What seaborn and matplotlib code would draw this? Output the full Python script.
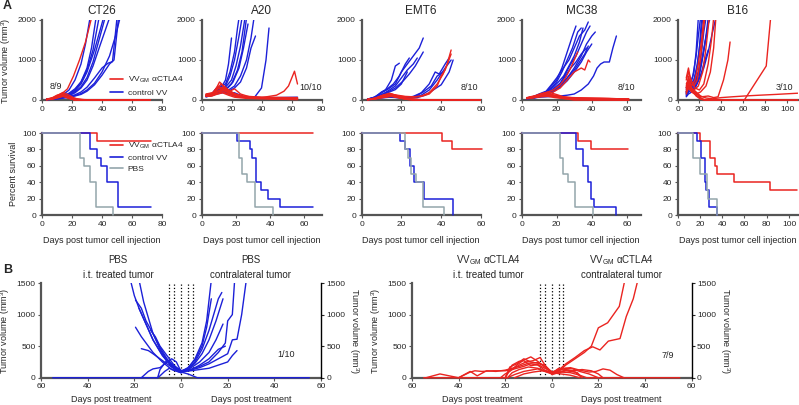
import pandas as pd
import matplotlib
matplotlib.use("Agg")
import matplotlib.pyplot as plt
import seaborn as sns
from matplotlib.lines import Line2D
from matplotlib.ticker import FuncFormatter

RED = "#ea2420"
BLUE = "#1c20d8"
GRAY = "#93a5ab"
SPINE = "#555555"

# ---------------- data: tumor growth, top row (day, volume mm3) ----------------
ct26_ctrl = [
    [(3, 20), (7, 40), (10, 70), (14, 130), (18, 250), (22, 500), (26, 900), (29, 1400), (32, 2050)],
    [(3, 15), (7, 30), (10, 60), (14, 100), (18, 170), (22, 280), (26, 450), (30, 750), (34, 1250), (38, 2050)],
    [(3, 15), (7, 30), (10, 50), (14, 80), (18, 130), (22, 230), (26, 400), (30, 700), (35, 1250), (41, 2050)],
    [(3, 10), (7, 25), (10, 40), (14, 70), (18, 110), (22, 180), (26, 300), (30, 500), (34, 850), (39, 1400), (45, 2050)],
    [(3, 10), (7, 20), (10, 40), (14, 60), (18, 90), (22, 130), (26, 200), (30, 320), (35, 550), (40, 800), (44, 920), (47, 960), (50, 2050)],
    [(3, 10), (7, 20), (10, 30), (14, 50), (18, 80), (22, 110), (26, 160), (30, 250), (35, 420), (40, 700), (45, 1100), (49, 1600), (52, 2050)],
    [(3, 15), (7, 30), (10, 50), (14, 90), (18, 150), (22, 250), (26, 450), (30, 800), (33, 1300), (36, 2050)],
    [(3, 10), (7, 20), (10, 40), (14, 70), (18, 120), (22, 200), (26, 330), (30, 560), (34, 950), (38, 1500), (42, 2050)],
    [(3, 10), (7, 20), (10, 30), (14, 50), (18, 70), (22, 100), (26, 140), (30, 220), (35, 380), (40, 620), (45, 900), (48, 1000), (51, 2050)],
    [(3, 10), (7, 30), (10, 50), (14, 70), (18, 50), (22, 20), (26, 0), (72, 0)],
]
ct26_vv = [
    [(3, 10), (7, 40), (10, 90), (14, 180), (17, 280), (21, 600), (25, 1000), (29, 1450), (33, 2050)],
    [(3, 15), (7, 50), (10, 110), (14, 190), (17, 140), (21, 60), (24, 20), (28, 0), (72, 0)],
    [(3, 10), (7, 30), (10, 80), (13, 150), (17, 100), (21, 30), (25, 0), (72, 0)],
    [(3, 20), (7, 60), (10, 120), (14, 160), (17, 90), (21, 20), (24, 0), (72, 0)],
    [(3, 10), (7, 40), (10, 70), (14, 120), (17, 60), (21, 10), (24, 0), (72, 0)],
    [(3, 10), (7, 30), (10, 60), (14, 100), (17, 80), (21, 40), (28, 10), (35, 0), (72, 0)],
    [(3, 5), (7, 20), (10, 50), (14, 90), (17, 50), (21, 10), (25, 0), (72, 0)],
    [(3, 10), (7, 40), (10, 90), (13, 130), (17, 70), (21, 15), (26, 0), (72, 0)],
    [(3, 15), (7, 35), (10, 70), (14, 110), (18, 40), (22, 0), (72, 0)],
]

a20_ctrl = [
    [(3, 100), (7, 150), (10, 250), (13, 300), (16, 500), (18, 900), (20, 1550)],
    [(3, 100), (7, 140), (10, 220), (13, 280), (16, 350), (19, 600), (22, 1000), (25, 1600), (27, 2050)],
    [(3, 120), (7, 160), (10, 300), (13, 350), (16, 400), (19, 700), (22, 1200), (24, 1800), (25, 2050)],
    [(3, 80), (7, 120), (10, 200), (13, 250), (16, 320), (20, 500), (23, 850), (26, 1350), (29, 2050)],
    [(3, 90), (7, 130), (10, 250), (14, 300), (17, 280), (20, 400), (24, 750), (27, 1200), (30, 2050)],
    [(3, 100), (7, 150), (10, 280), (13, 330), (17, 300), (21, 450), (25, 800), (28, 1300), (31, 1900)],
    [(3, 110), (7, 140), (10, 200), (14, 250), (18, 250), (22, 350), (26, 600), (30, 1000), (33, 1550), (35, 2050)],
    [(3, 80), (7, 110), (10, 170), (14, 200), (18, 220), (22, 300), (26, 450), (30, 800), (33, 1300), (36, 1600)],
    [(3, 100), (7, 120), (10, 150), (14, 180), (18, 200), (22, 180), (26, 120), (30, 60), (35, 50), (40, 300), (43, 1000), (45, 1800)],
    [(3, 100), (7, 120), (10, 180), (14, 200), (18, 150), (24, 80), (35, 60), (50, 60), (64, 70)],
]
a20_vv = [
    [(3, 120), (7, 150), (10, 250), (13, 400), (16, 300), (20, 200), (24, 120), (30, 70), (40, 50), (50, 40), (64, 40)],
    [(3, 100), (7, 130), (10, 300), (12, 450), (15, 350), (18, 250), (22, 150), (28, 80), (40, 60), (64, 50)],
    [(3, 150), (7, 180), (10, 200), (14, 250), (18, 200), (22, 280), (26, 150), (32, 80), (45, 50), (64, 30)],
    [(3, 90), (7, 120), (10, 180), (14, 300), (18, 220), (22, 120), (30, 60), (45, 40), (64, 20)],
    [(3, 130), (7, 160), (11, 350), (14, 280), (18, 180), (23, 100), (30, 60), (50, 40), (64, 40)],
    [(3, 110), (7, 140), (10, 220), (14, 260), (18, 200), (22, 120), (30, 60), (40, 60), (50, 120), (55, 220), (58, 350), (62, 720), (64, 400)],
    [(3, 120), (7, 140), (10, 200), (15, 230), (20, 150), (25, 90), (35, 50), (50, 30), (64, 20)],
    [(3, 100), (7, 110), (10, 160), (14, 200), (18, 150), (24, 80), (35, 40), (64, 30)],
    [(3, 140), (7, 170), (10, 260), (14, 320), (17, 260), (21, 170), (27, 100), (40, 70), (64, 60)],
    [(3, 90), (7, 100), (10, 140), (14, 180), (18, 120), (22, 70), (30, 40), (64, 10)],
]

emt6_ctrl = [
    [(3, 20), (6, 60), (9, 150), (12, 250), (15, 500), (17, 850), (19, 920)],
    [(3, 20), (7, 80), (10, 200), (13, 280), (16, 400), (19, 600), (22, 900), (24, 1050)],
    [(3, 10), (7, 50), (10, 120), (14, 250), (17, 350), (20, 550), (23, 750), (26, 900), (28, 1050)],
    [(3, 20), (7, 70), (10, 180), (13, 260), (17, 400), (20, 700), (23, 900), (26, 1100), (29, 1300), (31, 1550)],
    [(3, 15), (7, 60), (10, 140), (14, 220), (17, 300), (21, 480), (24, 650), (27, 850), (31, 1200)],
    [(3, 15), (7, 50), (10, 110), (14, 200), (17, 260), (20, 400), (23, 700)],
    [(3, 10), (7, 40), (10, 80), (14, 90), (18, 70), (22, 60), (26, 90), (30, 180), (34, 400), (37, 700), (39, 650), (42, 900), (44, 1050)],
    [(3, 10), (7, 30), (10, 60), (14, 80), (18, 60), (22, 50), (26, 70), (30, 120), (34, 250), (38, 500), (42, 800), (45, 1000)],
    [(3, 10), (7, 30), (10, 70), (14, 100), (18, 80), (22, 60), (27, 90), (31, 200), (35, 350), (38, 600), (41, 700)],
    [(3, 10), (7, 25), (10, 50), (14, 70), (18, 60), (22, 50), (28, 60), (32, 120), (36, 250), (40, 380), (44, 700), (46, 1000)],
]
emt6_vv = [
    [(3, 10), (7, 40), (10, 100), (14, 150), (18, 120), (22, 90), (26, 80), (30, 100), (34, 180), (38, 400), (41, 650), (43, 900), (45, 1250)],
    [(3, 10), (7, 30), (10, 80), (14, 120), (18, 100), (22, 80), (26, 70), (30, 90), (34, 150), (38, 350), (40, 600), (42, 750), (45, 1150)],
    [(3, 10), (7, 40), (11, 120), (15, 150), (19, 80), (23, 30), (28, 0), (60, 0)],
    [(3, 15), (7, 50), (10, 110), (14, 170), (18, 110), (22, 40), (27, 0), (60, 0)],
    [(3, 10), (7, 30), (11, 90), (15, 130), (19, 90), (24, 30), (30, 0), (60, 0)],
    [(3, 10), (7, 35), (10, 80), (14, 110), (18, 70), (22, 20), (26, 0), (60, 0)],
    [(3, 5), (7, 25), (11, 70), (15, 100), (19, 60), (23, 20), (29, 0), (60, 0)],
    [(3, 10), (7, 45), (10, 100), (13, 140), (17, 90), (22, 30), (27, 0), (60, 0)],
    [(3, 10), (7, 30), (11, 60), (15, 90), (19, 50), (24, 10), (28, 0), (60, 0)],
    [(3, 10), (7, 40), (11, 90), (15, 120), (20, 70), (25, 30), (32, 0), (60, 0)],
]

mc38_ctrl = [
    [(3, 50), (7, 80), (10, 120), (14, 200), (17, 350), (20, 500), (23, 800), (26, 1200), (29, 1600), (31, 1850)],
    [(3, 40), (7, 70), (10, 110), (14, 180), (17, 300), (20, 450), (23, 700), (26, 1000), (29, 1300), (32, 1700), (34, 1800)],
    [(3, 50), (7, 90), (10, 150), (14, 220), (17, 380), (20, 550), (23, 750), (27, 1000), (30, 1300), (33, 1600), (36, 1750), (38, 1950)],
    [(3, 40), (7, 60), (10, 90), (14, 150), (18, 250), (22, 400), (25, 650), (28, 900), (31, 1100), (34, 1400), (37, 1700), (39, 1850)],
    [(3, 30), (7, 50), (10, 80), (14, 130), (18, 220), (22, 350), (26, 550), (30, 800), (34, 1100), (37, 1400), (40, 1600), (42, 1700)],
    [(3, 50), (7, 80), (10, 130), (14, 200), (18, 320), (21, 450), (24, 600), (27, 850), (30, 1100), (33, 1450), (35, 1800)],
    [(3, 40), (7, 70), (10, 110), (14, 170), (18, 280), (22, 420), (25, 600), (28, 800), (31, 950), (34, 1150), (37, 1300)],
    [(3, 30), (7, 50), (10, 70), (14, 80), (18, 90), (22, 100), (26, 120), (30, 150), (34, 250), (38, 400), (41, 600), (43, 800), (45, 900), (47, 950), (50, 950), (52, 1300), (54, 1600)],
    [(3, 40), (7, 60), (10, 100), (14, 150), (18, 240), (22, 380), (26, 550), (30, 750), (33, 950), (36, 1150), (38, 1350)],
    [(3, 30), (7, 60), (10, 90), (14, 140), (18, 200), (22, 320), (26, 480), (30, 700), (34, 950), (37, 1200), (40, 1400)],
]
mc38_vv = [
    [(3, 50), (7, 80), (10, 120), (14, 180), (18, 250), (22, 380), (25, 550), (28, 800), (30, 1000), (32, 1200)],
    [(3, 40), (7, 60), (10, 100), (14, 150), (18, 200), (22, 300), (26, 500), (30, 700), (34, 800), (36, 750), (38, 1000), (39, 950)],
    [(3, 50), (7, 80), (11, 120), (15, 150), (19, 120), (24, 70), (30, 40), (40, 30), (50, 20), (61, 0)],
    [(3, 40), (7, 90), (11, 160), (15, 200), (19, 150), (24, 80), (30, 50), (45, 40), (61, 20)],
    [(3, 60), (7, 100), (11, 140), (15, 120), (19, 90), (24, 60), (32, 40), (61, 30)],
    [(3, 40), (7, 70), (11, 100), (15, 130), (19, 100), (24, 50), (30, 20), (61, 0)],
    [(3, 50), (7, 80), (11, 130), (15, 170), (19, 110), (24, 60), (35, 40), (61, 10)],
    [(3, 40), (7, 60), (11, 90), (15, 110), (19, 80), (24, 40), (30, 10), (61, 0)],
    [(3, 50), (7, 90), (11, 120), (15, 140), (19, 100), (24, 70), (35, 50), (50, 40), (61, 20)],
    [(3, 30), (7, 60), (11, 80), (15, 90), (19, 60), (25, 30), (30, 0), (61, 0)],
]

b16_ctrl = [
    [(8, 100), (10, 200), (12, 400), (15, 700), (17, 1200), (19, 2050)],
    [(8, 200), (10, 350), (12, 450), (14, 600), (17, 1100), (19, 1600), (21, 2050)],
    [(8, 150), (10, 250), (12, 350), (15, 500), (18, 900), (21, 1500), (23, 2050)],
    [(8, 250), (10, 400), (13, 350), (16, 450), (19, 700), (22, 1200), (24, 1700), (26, 2050)],
    [(8, 180), (10, 300), (13, 300), (16, 400), (20, 700), (23, 1100), (26, 1600), (28, 2050)],
    [(8, 120), (10, 200), (13, 250), (17, 350), (21, 600), (24, 900), (28, 1250)],
    [(8, 300), (10, 500), (12, 400), (15, 500), (18, 800), (20, 1300), (22, 2050)],
    [(8, 80), (10, 150), (13, 200), (16, 300), (19, 500), (22, 900), (25, 1400), (27, 1700)],
    [(8, 200), (10, 300), (13, 350), (17, 500), (20, 800), (23, 1100), (25, 1400), (28, 1900), (30, 2050)],
    [(8, 150), (10, 250), (13, 300), (16, 350), (20, 550), (24, 800), (28, 1200), (32, 1700), (35, 2050)],
]
b16_vv = [
    [(8, 550), (10, 800), (12, 500), (14, 400), (16, 500), (19, 900), (22, 1500), (24, 2050)],
    [(8, 300), (10, 600), (12, 400), (15, 350), (18, 500), (21, 1000), (23, 1600), (25, 2050)],
    [(8, 200), (10, 400), (12, 300), (15, 250), (19, 350), (23, 700), (26, 1300), (29, 2050)],
    [(8, 500), (10, 700), (13, 450), (16, 300), (20, 250), (24, 400), (28, 900), (31, 1500), (33, 2050)],
    [(8, 250), (10, 350), (13, 200), (17, 150), (21, 200), (26, 350), (30, 700), (33, 1300), (35, 2050)],
    [(8, 150), (10, 300), (13, 250), (17, 150), (22, 80), (28, 100), (33, 60), (37, 80), (42, 500), (46, 1000), (48, 1450)],
    [(8, 350), (10, 500), (13, 300), (17, 200), (21, 100), (26, 50), (32, 30), (40, 60), (50, 80), (61, 100), (75, 120), (90, 140), (110, 170)],
    [(8, 200), (10, 300), (13, 200), (17, 120), (21, 50), (25, 0), (61, 0), (81, 850), (85, 2050)],
    [(8, 400), (10, 500), (13, 300), (18, 150), (22, 30), (26, 0), (110, 0)],
    [(8, 300), (10, 450), (13, 250), (17, 100), (21, 20), (24, 0), (110, 0)],
]

# ---------------- data: survival (event day, percent) ----------------
ct26_surv_t = {"vv": [0, 36.5, 72.5], "ctrl": [0, 32, 36.5, 39.4, 43, 50.5, 72.5], "pbs": [0, 25.5, 28.3, 32.3, 36, 47]}
ct26_surv_p = {"vv": [100, 90, 90], "ctrl": [100, 80, 70, 60, 40, 10, 10], "pbs": [100, 70, 60, 40, 10, 0]}
a20_surv_t = {"vv": [0, 65], "ctrl": [0, 20.5, 28, 29.6, 31.9, 34.8, 38.9, 45.6, 65], "pbs": [0, 21.9, 23.8, 26.7, 31, 41.8]}
a20_surv_p = {"vv": [100, 100], "ctrl": [100, 90, 80, 70, 40, 30, 20, 10, 10], "pbs": [100, 70, 50, 40, 10, 0]}
emt6_surv_t = {"vv": [0, 40.5, 45.4, 60.5], "ctrl": [0, 19.5, 22, 24.6, 26.6, 31.5, 45.8], "pbs": [0, 22, 23.5, 25, 27.2, 31, 41.2]}
emt6_surv_p = {"vv": [100, 90, 80, 80], "ctrl": [100, 90, 80, 60, 40, 20, 0], "pbs": [100, 80, 70, 50, 40, 10, 0]}
mc38_surv_t = {"vv": [0, 32, 39.6, 60.5], "ctrl": [0, 31.1, 34.9, 37.7, 39.6, 41.5, 53.8], "pbs": [0, 21.7, 23.6, 26.4, 30.2, 40.6]}
mc38_surv_p = {"vv": [100, 90, 80, 80], "ctrl": [100, 80, 60, 40, 20, 10, 0], "pbs": [100, 70, 50, 40, 10, 0]}
b16_surv_t = {"vv": [0, 20.6, 29, 34, 35, 50.3, 83.2, 107], "ctrl": [0, 17.6, 21, 24.7, 25.6, 28.2, 35], "pbs": [0, 14, 20.6, 26.5, 27.6, 35.3]}
b16_surv_p = {"vv": [100, 90, 70, 60, 50, 40, 30, 30], "ctrl": [100, 90, 70, 40, 30, 10, 0], "pbs": [100, 70, 50, 30, 20, 0]}

# ---------------- data: panel B, treated and contralateral tumors (day post treatment, volume) ----------------
pbs_treated = [
    [(0, 100), (4, 180), (8, 350), (12, 600), (15, 850), (18, 1100), (20, 1300), (21.7, 1550)],
    [(0, 90), (3, 150), (6, 280), (9, 450), (12, 700), (14, 950), (16, 1200), (18, 1550)],
    [(0, 110), (3, 170), (6, 300), (9, 480), (12, 700), (15, 900), (17, 1100), (19.5, 1230)],
    [(0, 100), (3, 160), (6, 260), (9, 420), (12, 600), (15, 850), (18, 1100)],
    [(0, 80), (4, 130), (8, 250), (12, 400), (15, 550), (17, 650), (19.5, 800)],
    [(0, 100), (3, 200), (6, 350), (9, 500), (11, 650), (13, 750)],
    [(0, 90), (3, 140), (6, 220), (9, 300), (12, 380), (14, 430), (17, 460)],
    [(0, 100), (2, 250), (4, 300), (6, 250), (9, 160), (12, 140), (14, 100), (17, 0)],
    [(0, 80), (3, 120), (5, 150), (7, 100), (9, 30), (10, 0), (55, 0)],
    [(0, 120), (3, 180), (6, 280), (9, 130), (10, 0)],
]
pbs_contra = [
    [(0, 90), (3, 150), (6, 300), (9, 550), (11, 900), (13, 1550)],
    [(0, 100), (3, 160), (6, 280), (9, 500), (11, 800), (13, 1250)],
    [(0, 80), (3, 130), (6, 250), (9, 450), (12, 750), (14, 1000), (16, 1250), (17.5, 1350)],
    [(0, 100), (3, 140), (6, 230), (9, 380), (12, 600), (15, 900), (18, 1250)],
    [(0, 110), (4, 150), (8, 250), (12, 400), (15, 600), (18, 850)],
    [(0, 90), (4, 120), (8, 200), (12, 300), (16, 450), (19, 500)],
    [(0, 100), (4, 130), (8, 180), (12, 250), (16, 400), (19, 550), (20, 900), (22, 1000), (23, 1550)],
    [(0, 80), (4, 120), (8, 160), (12, 220), (16, 300), (20, 380), (22, 600), (24, 610), (26, 1000), (28, 1550)],
    [(0, 100), (4, 110), (8, 130), (12, 150), (16, 200), (20, 250), (22, 350), (24, 430)],
    [(0, 90), (3, 60), (5, 30), (7, 0), (55, 0)],
]
vv_treated = [
    [(0, 70), (2, 150), (5, 320), (8, 270), (11, 250), (14, 200), (17, 130), (20, 110), (25, 110), (30, 100), (33, 110), (35, 90), (40, 0), (48, 60), (54, 0)],
    [(0, 90), (3, 200), (6, 230), (9, 250), (12, 300), (15, 220), (18, 170), (20, 0)],
    [(0, 60), (3, 180), (6, 240), (10, 230), (14, 180), (17, 150), (20, 120), (24, 100), (28, 110), (32, 30), (35, 100), (40, 0)],
    [(0, 100), (3, 150), (6, 210), (9, 190), (12, 270), (14, 260), (17, 200), (20, 0)],
    [(0, 80), (3, 120), (6, 200), (9, 220), (12, 180), (15, 150), (18, 120), (20, 0)],
    [(0, 70), (3, 110), (6, 150), (10, 170), (14, 130), (17, 80), (19, 0)],
    [(0, 90), (3, 170), (6, 260), (9, 330), (12, 280), (15, 200), (18, 100), (20, 60), (22, 0)],
    [(0, 60), (3, 100), (6, 140), (9, 120), (12, 100), (16, 50), (19, 0), (55, 0)],
    [(0, 80), (4, 110), (8, 90), (12, 60), (16, 0)],
]
vv_contra = [
    [(0, 60), (3, 100), (6, 200), (10, 300), (14, 400), (17, 500), (20, 790), (24, 870), (29, 1130), (31.4, 1550)],
    [(0, 70), (3, 120), (6, 220), (10, 320), (14, 430), (17.6, 490), (20.7, 440), (24.3, 580), (29.3, 620), (32, 970), (35, 1250), (37, 1550)],
    [(0, 80), (3, 120), (6, 150), (9, 140), (12, 100), (16, 60), (20, 0)],
    [(0, 70), (3, 150), (6, 130), (9, 110), (13, 130), (17, 110), (20, 60), (22, 0)],
    [(0, 90), (4, 140), (8, 160), (12, 120), (16, 90), (19, 100), (22, 140), (25, 120), (28, 50), (31, 0)],
    [(0, 60), (3, 80), (6, 110), (10, 90), (13, 0)],
    [(0, 50), (4, 90), (8, 80), (12, 40), (15, 0), (55, 0)],
    [(0, 70), (3, 100), (7, 120), (11, 80), (13, 0)],
    [(0, 80), (4, 60), (8, 40), (12, 0)],
]
treat_days = [-5, -3, 0, 3, 5]

# ---------------- style ----------------
sns.set_style("ticks")
plt.rcParams["font.family"] = ["Liberation Sans", "DejaVu Sans"]
plt.rcParams["mathtext.fontset"] = "custom"
plt.rcParams["mathtext.rm"] = "Liberation Sans"
plt.rcParams["mathtext.it"] = "Liberation Sans:italic"

VV_LABEL = r"VV$_{\rm GM}$ αCTLA4"
TICK = 6
LAB = 6.5
W, H = 799, 405
fig = plt.figure(figsize=(W / 100, H / 100), dpi=100)


def axes_px(l, t, r, b):
    return fig.add_axes([l / W, 1 - b / H, (r - l) / W, (b - t) / H])


def style(ax):
    sns.despine(ax=ax)
    for s in ("left", "bottom"):
        ax.spines[s].set_color(SPINE)
        ax.spines[s].set_linewidth(1.6)
    ax.spines["bottom"].set_position(("data", 0))
    ax.tick_params(labelsize=TICK, length=2.5, width=0.8, pad=1.5, color=SPINE)


def to_long(curves, group, sign=1):
    rows = []
    for i, c in enumerate(curves):
        for d, v in c:
            rows.append((group, f"{group}{i}", sign * d, v))
    return pd.DataFrame(rows, columns=["group", "mouse", "day", "volume"])


def draw_curves(ax, curves, color, sign=1):
    df = to_long(curves, "m", sign)
    sns.lineplot(data=df, x="day", y="volume", units="mouse", estimator=None,
                 sort=False, color=color, lw=1.0, legend=False, ax=ax, zorder=3)


# ---------------- rows 1 and 2: growth and survival ----------------
top = [("CT26", ct26_ctrl, ct26_vv, 80, "8/9", (9, 330)),
       ("A20", a20_ctrl, a20_vv, 80, "10/10", (73, 300)),
       ("EMT6", emt6_ctrl, emt6_vv, 60, "8/10", (54, 300)),
       ("MC38", mc38_ctrl, mc38_vv, 68, "8/10", (59.5, 320)),
       ("B16", b16_ctrl, b16_vv, 110, "3/10", (98, 320))]
xs = [(42, 162), (201.5, 321.5), (361.5, 481), (521.5, 641), (677.5, 798)]
surv = [(ct26_surv_t, ct26_surv_p, 80), (a20_surv_t, a20_surv_p, 70), (emt6_surv_t, emt6_surv_p, 60),
        (mc38_surv_t, mc38_surv_p, 68), (b16_surv_t, b16_surv_p, 108)]

for i, ((name, ctrl, vv, xmax, frac, fpos), (l, r)) in enumerate(zip(top, xs)):
    ax = axes_px(l, 20, r, 101)
    draw_curves(ax, ctrl, BLUE)
    draw_curves(ax, vv, RED)
    ax.set_xlim(0, xmax)
    ax.set_ylim(-25, 2000)
    ax.set_yticks([0, 1000, 2000])
    ax.set_xticks(range(0, xmax + 1, 20))
    style(ax)
    ax.spines["left"].set_bounds(0, 2000)
    ax.set_title(name, fontsize=8.5, pad=4)
    ax.set_xlabel("")
    ax.set_ylabel("Tumor volume (mm$^3$)" if i == 0 else "", fontsize=LAB, labelpad=3)
    ax.text(fpos[0], fpos[1], frac, fontsize=6.5, ha="center", va="center")
    if i == 0:
        ax.legend(handles=[Line2D([], [], color=RED, lw=1.2), Line2D([], [], color=BLUE, lw=1.2)],
                  labels=[VV_LABEL, "control VV"], loc="upper left", bbox_to_anchor=(0.54, 0.36),
                  frameon=False, fontsize=6, handlelength=1.6, handletextpad=0.5,
                  labelspacing=0.45, borderaxespad=0)

    st, sp, smax = surv[i]
    ax2 = axes_px(l, 133, r, 215)
    for key, col in (("vv", RED), ("ctrl", BLUE), ("pbs", GRAY)):
        sns.lineplot(x=st[key], y=sp[key], drawstyle="steps-post", color=col, lw=1.1,
                     estimator=None, ax=ax2, clip_on=False, zorder=3)
    ax2.set_xlim(0, smax)
    ax2.set_ylim(0, 100)
    ax2.set_yticks(range(0, 101, 20))
    ax2.set_xticks(range(0, smax + 1, 20))
    style(ax2)
    ax2.set_xlabel("Days post tumor cell injection", fontsize=LAB, labelpad=6)
    ax2.set_ylabel("Percent survival" if i == 0 else "", fontsize=LAB, labelpad=3)
    if i == 0:
        ax2.legend(handles=[Line2D([], [], color=c, lw=1.2) for c in (RED, BLUE, GRAY)],
                   labels=[VV_LABEL, "control VV", "PBS"], loc="upper left", bbox_to_anchor=(0.54, 0.94),
                   frameon=False, fontsize=6, handlelength=1.6, handletextpad=0.5,
                   labelspacing=0.35, borderaxespad=0)

# ---------------- row 3: panel B ----------------
absfmt = FuncFormatter(lambda v, p: f"{abs(v):.0f}")
panels_b = [(41, 321, pbs_treated, pbs_contra, BLUE, "PBS", "1/10", (45, 370)),
            (412, 691.5, vv_treated, vv_contra, RED, VV_LABEL, "7/9", (50, 350))]
for l, r, treated, contra, col, head, frac, fpos in panels_b:
    ax = axes_px(l, 283, r, 379)
    draw_curves(ax, treated, col, sign=-1)
    draw_curves(ax, contra, col)
    ax.vlines(treat_days, 0, 1500, colors="black", linestyles=":", lw=0.9, zorder=2)
    ax.set_xlim(-60, 60)
    ax.set_ylim(-20, 1500)
    ax.set_xticks(range(-60, 61, 20))
    ax.set_yticks([0, 500, 1000, 1500])
    ax.xaxis.set_major_formatter(absfmt)
    style(ax)
    ax.spines["left"].set_bounds(0, 1500)
    ax.set_xlabel("")
    ax.set_ylabel("Tumor volume (mm$^3$)", fontsize=LAB, labelpad=3)
    ax.text(fpos[0], fpos[1], frac, fontsize=6.5, ha="center", va="center")
    tr = ax.get_xaxis_transform()
    for x in (-30, 30):
        ax.text(x, -0.21, "Days post treatment", transform=tr, fontsize=LAB, ha="center", va="center")
    ax.text(-27, 1.24, head, transform=tr, fontsize=7, ha="center", va="center")
    ax.text(-27, 1.085, "i.t. treated tumor", transform=tr, fontsize=7, ha="center", va="center")
    ax.text(30, 1.24, head, transform=tr, fontsize=7, ha="center", va="center")
    ax.text(30, 1.085, "contralateral tumor", transform=tr, fontsize=7, ha="center", va="center")

    axr = ax.twinx()
    axr.set_ylim(-20, 1500)
    axr.set_yticks([0, 500, 1000, 1500])
    for s in ("top", "left", "bottom"):
        axr.spines[s].set_visible(False)
    axr.spines["right"].set_bounds(0, 1500)
    axr.spines["right"].set_linewidth(1.0)
    axr.spines["right"].set_color("black")
    axr.tick_params(labelsize=TICK, length=2.5, width=0.8, pad=1.5)
    axr.set_ylabel("Tumor volume (mm$^3$)", fontsize=LAB, rotation=270, labelpad=11)

fig.text(3 / W, 1 - 6 / H, "A", fontsize=9, fontweight="bold", va="center")
fig.text(3 / W, 1 - 270 / H, "B", fontsize=9, fontweight="bold", va="center")

fig.savefig("out.png", dpi=100)
